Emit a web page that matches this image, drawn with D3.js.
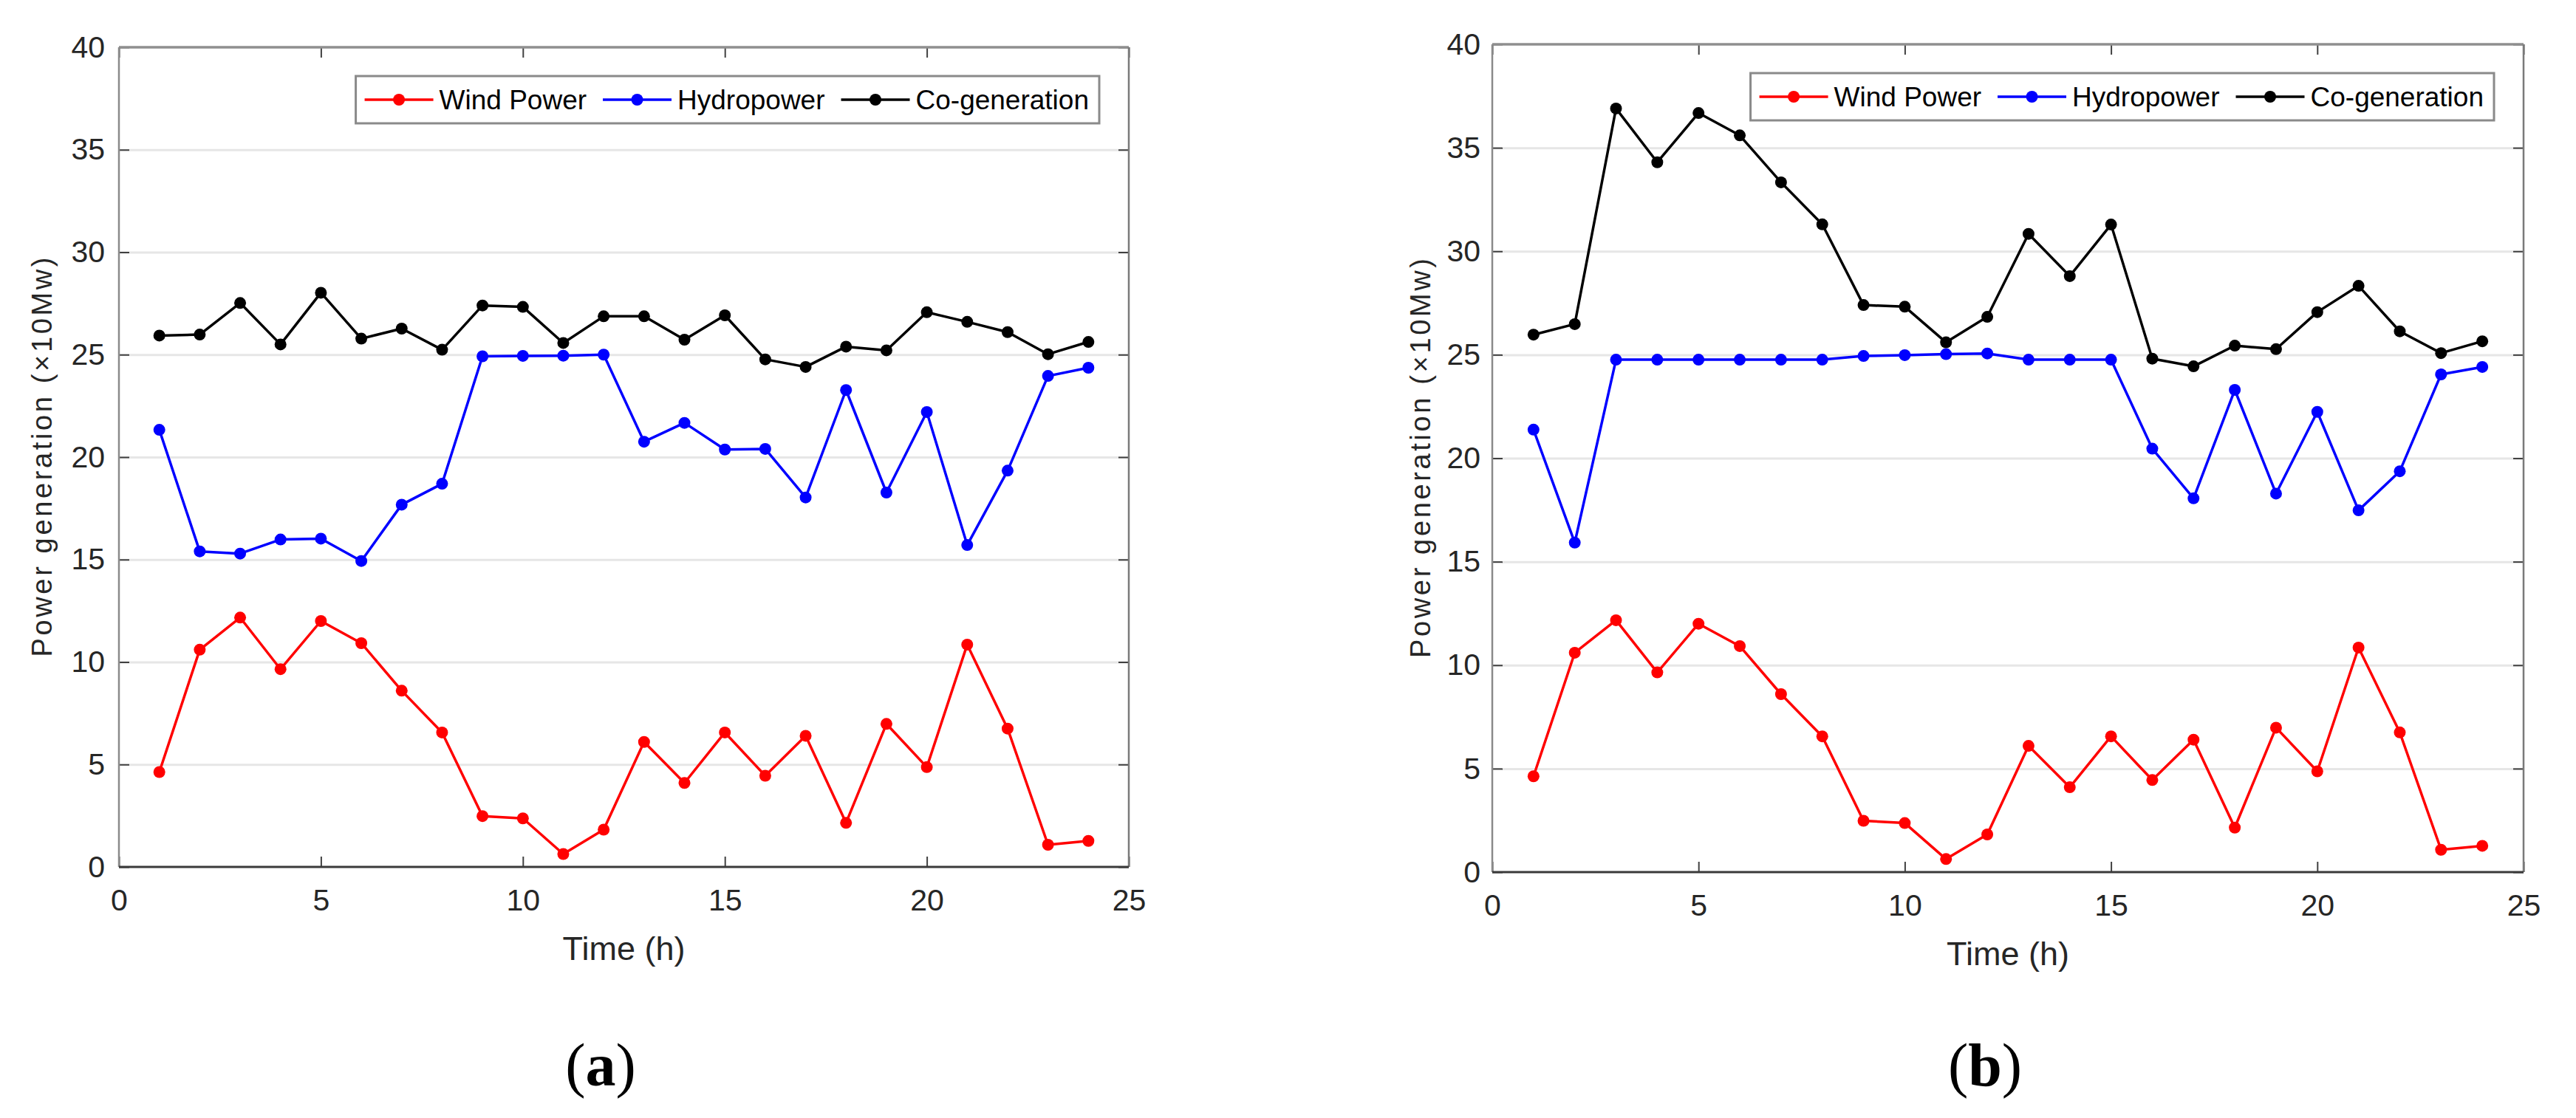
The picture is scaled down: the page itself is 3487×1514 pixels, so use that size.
<!DOCTYPE html>
<html>
<head>
<meta charset="utf-8">
<script src="https://cdn.jsdelivr.net/npm/d3@7/dist/d3.min.js"></script>
<style>
  html, body { margin: 0; padding: 0; background: #ffffff; }
  svg { display: block; }
</style>
</head>
<body>
<svg id="chart" width="3487" height="1514"></svg>
<script>
// ---------- data ----------
const hours = [1, 2, 3, 4, 5, 6, 7, 8, 9, 10, 11, 12, 13, 14, 15, 16, 17, 18, 19, 20, 21, 22, 23, 24];
const seriesNames = ["Wind Power", "Hydropower", "Co-generation"];
const seriesColors = ["#ff0000", "#0000ff", "#000000"];

const windPower = [4.63, 10.6, 12.17, 9.65, 12.0, 10.92, 8.6, 6.56, 2.48, 2.37, 0.63, 1.82,
                   6.1, 4.1, 6.56, 4.45, 6.4, 2.15, 6.98, 4.87, 10.85, 6.75, 1.08, 1.27];
const hydroA = [21.33, 15.4, 15.29, 15.98, 16.02, 14.93, 17.68, 18.7, 24.92, 24.94, 24.95, 25.0,
                20.75, 21.67, 20.37, 20.4, 18.03, 23.27, 18.27, 22.2, 15.71, 19.34, 23.96, 24.36];
const cogenA = [25.93, 25.98, 27.52, 25.5, 28.02, 25.78, 26.27, 25.24, 27.4, 27.33, 25.57, 26.87,
                26.87, 25.73, 26.92, 24.77, 24.4, 25.39, 25.21, 27.07, 26.6, 26.1, 25.02, 25.62];
const hydroB = [21.38, 15.92, 24.76, 24.76, 24.76, 24.76, 24.76, 24.76, 24.94, 24.98, 25.03, 25.06,
                24.76, 24.76, 24.76, 20.46, 18.06, 23.3, 18.29, 22.24, 17.48, 19.37, 24.05, 24.41];
const cogenB = [25.97, 26.48, 36.9, 34.3, 36.68, 35.6, 33.33, 31.3, 27.4, 27.32, 25.6, 26.83,
                30.84, 28.8, 31.29, 24.81, 24.44, 25.44, 25.27, 27.06, 28.33, 26.13, 25.08, 25.65];

const xTicks = [0, 5, 10, 15, 20, 25];
const yTicks = [0, 5, 10, 15, 20, 25, 30, 35, 40];
const xLabel = "Time (h)";
const yLabel = "Power generation (\u00d710Mw)";
const panelLetters = ["a", "b"];

// ---------- drawing ----------
const svg = d3.select("#chart");
const FONT = "'Liberation Sans', Arial, Helvetica, sans-serif";

function drawPanel(cfg) {
  const { left, right, top, bottom, series, yLabelX, yPad, letter, letterX } = cfg;
  const x = d3.scaleLinear().domain([0, 25]).range([left, right]);
  const y = d3.scaleLinear().domain([0, 40]).range([bottom, top]);
  const g = svg.append("g");

  // horizontal grid
  g.append("g")
    .attr("transform", `translate(${left},0)`)
    .call(d3.axisLeft(y).tickValues(yTicks.filter(v => v > 0 && v < 40))
      .tickSize(-(right - left)).tickFormat(""))
    .call(s => s.select(".domain").remove())
    .call(s => s.selectAll("line").attr("stroke", "#e6e6e6").attr("stroke-width", 3));

  // ticks and labels
  const tickStyle = s => {
    s.select(".domain").remove();
    s.selectAll("line").attr("stroke", "#404040").attr("stroke-width", 2);
    s.selectAll("text").attr("font-family", FONT).attr("font-size", 41).attr("fill", "#262626");
  };
  g.append("g").attr("transform", `translate(0,${bottom})`)
    .call(d3.axisBottom(x).tickValues(xTicks).tickSize(-14).tickPadding(30).tickFormat(d3.format("d")))
    .call(tickStyle);
  g.append("g").attr("transform", `translate(0,${top})`)
    .call(d3.axisTop(x).tickValues(xTicks).tickSize(-14).tickFormat(""))
    .call(tickStyle);
  g.append("g").attr("transform", `translate(${left},0)`)
    .call(d3.axisLeft(y).tickValues(yTicks).tickSize(-14).tickPadding(yPad).tickFormat(d3.format("d")))
    .call(tickStyle);
  g.append("g").attr("transform", `translate(${right},0)`)
    .call(d3.axisRight(y).tickValues(yTicks).tickSize(-14).tickFormat(""))
    .call(tickStyle);

  // box
  g.append("line").attr("x1", left).attr("x2", right).attr("y1", top).attr("y2", top)
    .attr("stroke", "#8f8f8f").attr("stroke-width", 3.5);
  g.append("line").attr("x1", right).attr("x2", right).attr("y1", top).attr("y2", bottom)
    .attr("stroke", "#7a7a7a").attr("stroke-width", 2.5);
  g.append("line").attr("x1", left).attr("x2", left).attr("y1", top).attr("y2", bottom)
    .attr("stroke", "#8a8a8a").attr("stroke-width", 2.5);
  g.append("line").attr("x1", left).attr("x2", right).attr("y1", bottom).attr("y2", bottom)
    .attr("stroke", "#3a3a3a").attr("stroke-width", 3);

  // series
  const line = d3.line().x((d, i) => x(hours[i])).y(d => y(d));
  series.forEach((vals, k) => {
    const sg = g.append("g");
    sg.append("path").datum(vals).attr("d", line)
      .attr("fill", "none").attr("stroke", seriesColors[k]).attr("stroke-width", 3.5)
      .attr("stroke-linejoin", "round");
    sg.selectAll("circle").data(vals).join("circle")
      .attr("cx", (d, i) => x(hours[i])).attr("cy", d => y(d)).attr("r", 8)
      .attr("fill", seriesColors[k]);
  });

  // axis labels
  g.append("text")
    .attr("x", (left + right) / 2).attr("y", bottom + 126)
    .attr("text-anchor", "middle").attr("font-family", FONT).attr("font-size", 45)
    .attr("fill", "#262626").text(xLabel);
  g.append("text")
    .attr("transform", `translate(${yLabelX},${(top + bottom) / 2}) rotate(-90)`)
    .attr("text-anchor", "middle").attr("dy", "0.35em")
    .attr("font-family", FONT).attr("font-size", 38).attr("fill", "#262626")
    .attr("textLength", 541).attr("lengthAdjust", "spacing")
    .text(yLabel);

  // legend
  const lg = g.append("g");
  const box = lg.append("rect").attr("fill", "#ffffff").attr("stroke", "#8a8a8a").attr("stroke-width", 3);
  const legY = top + 71;
  let cx = 0;
  seriesNames.forEach((name, k) => {
    const ig = lg.append("g");
    ig.append("line").attr("x1", cx + 12).attr("x2", cx + 105).attr("y1", 0).attr("y2", 0)
      .attr("stroke", seriesColors[k]).attr("stroke-width", 3.5);
    ig.append("circle").attr("cx", cx + 58.5).attr("cy", 0).attr("r", 8).attr("fill", seriesColors[k]);
    const t = ig.append("text").attr("x", cx + 113).attr("y", 0).attr("dy", "0.35em")
      .attr("font-family", FONT).attr("font-size", 37).attr("fill", "#000").text(name);
    const w = t.node().getComputedTextLength();
    cx = cx + 113 + w + 10;
  });
  const legW = cx + 4;
  const legX = right - 40 - legW;
  lg.attr("transform", `translate(${legX},${legY})`);
  box.attr("x", 0).attr("y", -32).attr("width", legW).attr("height", 64);

  // panel caption
  const cap = svg.append("text")
    .attr("x", letterX).attr("y", 1470).attr("text-anchor", "middle")
    .attr("font-family", "'Liberation Serif', 'Times New Roman', serif")
    .attr("font-size", 82).attr("fill", "#000");
  cap.append("tspan").text("(");
  cap.append("tspan").attr("font-weight", "bold").text(letter);
  cap.append("tspan").text(")");
}

drawPanel({ left: 161, right: 1528, top: 64, bottom: 1174,
  series: [windPower, hydroA, cogenA], yLabelX: 57, yPad: 19,
  letter: panelLetters[0], letterX: 813 });
drawPanel({ left: 2020, right: 3416, top: 60, bottom: 1181,
  series: [windPower, hydroB, cogenB], yLabelX: 1923, yPad: 16,
  letter: panelLetters[1], letterX: 2687 });
</script>
</body>
</html>
